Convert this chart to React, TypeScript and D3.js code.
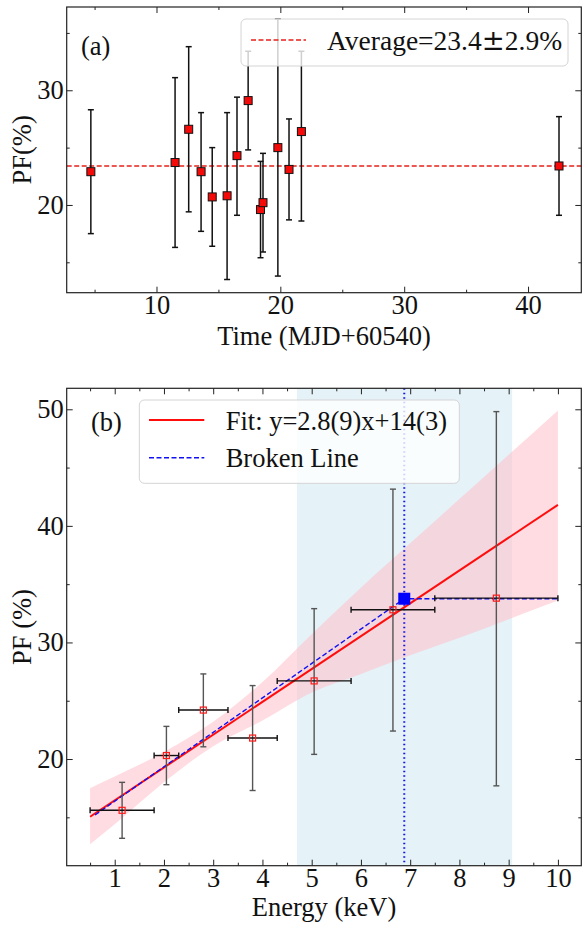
import React, { useEffect, useRef } from 'react'
import * as d3 from 'd3'

// panel (a): pulse fraction vs time
const timeX = [4.7, 11.5, 12.6, 13.6, 14.5, 15.7, 16.5, 17.4, 18.4, 18.6, 19.8, 20.7, 21.7, 42.5]
const timePF = [22.9, 23.7, 26.6, 22.9, 20.7, 20.8, 24.3, 29.1, 19.6, 20.2, 25.0, 23.1, 26.4, 23.4]
const timePFHi = [28.3, 31.1, 33.8, 28.05, 25.0, 28.05, 29.4, 33.4, 23.8, 24.5, 36.2, 27.5, 33.4, 27.7]
const timePFLo = [17.5, 16.3, 19.4, 17.7, 16.4, 13.5, 19.1, 24.8, 15.4, 15.9, 13.8, 18.7, 18.6, 19.1]
const averagePF = 23.4
const averageLabel = ['Average=23.4', '\u00b1', '2.9%']

// panel (b): pulse fraction vs energy
const eX = [1.15, 2.05, 2.8, 3.8, 5.05, 6.65, 8.75]
const eXLo = [0.5, 1.8, 2.3, 3.3, 4.3, 5.8, 7.5]
const eXHi = [1.8, 2.3, 3.3, 4.3, 5.8, 7.5, 10.0]
const ePF = [15.6, 20.3, 24.2, 21.8, 26.7, 32.8, 33.8]
const ePFLo = [13.2, 17.8, 21.05, 17.3, 20.4, 22.4, 17.7]
const ePFHi = [18.0, 22.8, 27.3, 26.3, 32.9, 43.15, 49.8]

const fitX = [0.5, 10]
const fitY = [15.05, 41.8]
const bandX = [0.5, 1, 2, 3, 4, 5, 6, 7, 8, 9, 10]
const bandLo = [12.7, 14.4, 18.0, 21.1, 23.3, 25.7, 27.3, 28.9, 30.4, 32.0, 33.6]
const bandHi = [17.5, 18.5, 20.6, 23.2, 26.6, 30.7, 34.7, 38.5, 42.3, 46.1, 49.9]
const brokenX = [0.6, 6.88, 10]
const brokenY = [15.2, 33.75, 33.75]
const breakE = 6.88
const breakPF = 33.75
const spanE = [4.7, 9.07]
const fitLabel = 'Fit: y=2.8(9)x+14(3)'
const brokenLabel = 'Broken Line'

const FONT = '"Liberation Serif", "Times New Roman", serif'
const FS = 26.5

function frameAxes(g, x, y, box, xMajor, xMinor, yMajor, yMinor) {
    const { left, right, top, bottom } = box
    const fmt = d3.format('d')
    const styleAxis = sel => {
        sel.select('.domain').remove()
        sel.selectAll('line').attr('stroke', '#222').attr('stroke-width', 1)
        sel.selectAll('text').attr('font-family', FONT).attr('font-size', FS).attr('fill', '#111')
    }
    const add = (axis, tx, ty) => g.append('g').attr('transform', `translate(${tx},${ty})`).call(axis).call(styleAxis)

    add(d3.axisBottom(x).tickValues(xMajor).tickFormat(fmt).tickSizeInner(-6).tickSizeOuter(0).tickPadding(2), 0, bottom)
    add(d3.axisBottom(x).tickValues(xMinor).tickFormat(() => '').tickSizeInner(-3).tickSizeOuter(0), 0, bottom)
    add(d3.axisTop(x).tickValues(xMajor).tickFormat(() => '').tickSizeInner(-6).tickSizeOuter(0), 0, top)
    add(d3.axisTop(x).tickValues(xMinor).tickFormat(() => '').tickSizeInner(-3).tickSizeOuter(0), 0, top)
    add(d3.axisLeft(y).tickValues(yMajor).tickFormat(fmt).tickSizeInner(-6).tickSizeOuter(0).tickPadding(3), left, 0)
    add(d3.axisLeft(y).tickValues(yMinor).tickFormat(() => '').tickSizeInner(-3).tickSizeOuter(0), left, 0)
    add(d3.axisRight(y).tickValues(yMajor).tickFormat(() => '').tickSizeInner(-6).tickSizeOuter(0), right, 0)
    add(d3.axisRight(y).tickValues(yMinor).tickFormat(() => '').tickSizeInner(-3).tickSizeOuter(0), right, 0)

    g.append('rect')
        .attr('x', left).attr('y', top)
        .attr('width', right - left).attr('height', bottom - top)
        .attr('fill', 'none').attr('stroke', '#222').attr('stroke-width', 1.2)
}

function label(g, text, x, y, opts = {}) {
    const t = g.append('text')
        .attr('x', x).attr('y', y)
        .attr('font-family', FONT).attr('font-size', opts.size || FS).attr('fill', '#111')
        .attr('text-anchor', opts.anchor || 'start')
        .text(text)
    if (opts.rotate) t.attr('transform', `rotate(-90,${x},${y})`)
    return t
}

export default function App() {
    const ref = useRef(null)

    useEffect(() => {
        const svg = d3.select(ref.current)
        svg.selectAll('*').remove()

        // ---------- panel (a) ----------
        const boxA = { left: 66.7, right: 581.3, top: 7, bottom: 292.7 }
        const xa = d3.scaleLinear().domain([2.75, 44.3]).range([boxA.left, boxA.right])
        const ya = d3.scaleLinear().domain([12.35, 37.26]).range([boxA.bottom, boxA.top])
        const ga = svg.append('g')

        ga.append('line')
            .attr('x1', boxA.left).attr('x2', boxA.right)
            .attr('y1', ya(averagePF)).attr('y2', ya(averagePF))
            .attr('stroke', '#e8201a').attr('stroke-width', 1.4).attr('stroke-dasharray', '5,2.5')

        timeX.forEach((t, i) => {
            const cx = xa(t)
            ga.append('line').attr('x1', cx).attr('x2', cx)
                .attr('y1', ya(timePFLo[i])).attr('y2', ya(timePFHi[i]))
                .attr('stroke', '#111').attr('stroke-width', 1.5)
            ;[timePFLo[i], timePFHi[i]].forEach(v => {
                ga.append('line').attr('x1', cx - 3).attr('x2', cx + 3)
                    .attr('y1', ya(v)).attr('y2', ya(v))
                    .attr('stroke', '#111').attr('stroke-width', 1.5)
            })
        })
        ga.selectAll('rect.pt').data(timeX).enter().append('rect')
            .attr('class', 'pt')
            .attr('x', (d) => xa(d) - 4).attr('y', (d, i) => ya(timePF[i]) - 4)
            .attr('width', 8).attr('height', 8)
            .attr('fill', '#f50a0a').attr('stroke', '#111').attr('stroke-width', 1)

        // legend (a)
        ga.append('rect').attr('x', 241).attr('y', 19).attr('width', 327).attr('height', 47).attr('rx', 5)
            .attr('fill', 'white').attr('fill-opacity', 0.8).attr('stroke', '#d4d4d4')
        ga.append('line').attr('x1', 251).attr('x2', 306).attr('y1', 40).attr('y2', 40)
            .attr('stroke', '#e8201a').attr('stroke-width', 1.4).attr('stroke-dasharray', '5,2.5')
        const avg = label(ga, '', 327, 50, { size: 27.5 })
        avg.append('tspan').text(averageLabel[0])
        avg.append('tspan').attr('font-family', '"DejaVu Serif", serif').text(averageLabel[1])
        avg.append('tspan').text(averageLabel[2])
        label(ga, '(a)', 81, 55)

        frameAxes(ga, xa, ya, boxA, [10, 20, 30, 40], [5, 15, 25, 35], [20, 30], [15, 25, 35])
        label(ga, 'Time (MJD+60540)', (boxA.left + boxA.right) / 2, 345, { anchor: 'middle' })
        label(ga, 'PF(%)', 31, (boxA.top + boxA.bottom) / 2, { anchor: 'middle', rotate: true })

        // ---------- panel (b) ----------
        const boxB = { left: 66.7, right: 581.3, top: 388.3, bottom: 865.7 }
        const xb = d3.scaleLinear().domain([0.025, 10.475]).range([boxB.left, boxB.right])
        const yb = d3.scaleLinear().domain([10.85, 51.8]).range([boxB.bottom, boxB.top])
        const gb = svg.append('g')

        gb.append('rect')
            .attr('x', xb(spanE[0])).attr('y', boxB.top)
            .attr('width', xb(spanE[1]) - xb(spanE[0])).attr('height', boxB.bottom - boxB.top)
            .attr('fill', 'lightblue').attr('fill-opacity', 0.32)

        const area = d3.area()
            .x((d) => xb(d))
            .y0((d, i) => yb(bandLo[i]))
            .y1((d, i) => yb(bandHi[i]))
            .curve(d3.curveMonotoneX)
        gb.append('path').attr('d', area(bandX)).attr('fill', 'pink').attr('fill-opacity', 0.55)

        const line = d3.line().x((d) => xb(d[0])).y((d) => yb(d[1]))
        gb.append('path').attr('d', line(fitX.map((v, i) => [v, fitY[i]])))
            .attr('fill', 'none').attr('stroke', '#ff0d0d').attr('stroke-width', 2)
        gb.append('path').attr('d', line(brokenX.map((v, i) => [v, brokenY[i]])))
            .attr('fill', 'none').attr('stroke', '#1010f0').attr('stroke-width', 1.4).attr('stroke-dasharray', '5,2.5')
        gb.append('line').attr('x1', xb(breakE)).attr('x2', xb(breakE))
            .attr('y1', boxB.top).attr('y2', boxB.bottom)
            .attr('stroke', '#1010f0').attr('stroke-width', 2).attr('stroke-dasharray', '1.5,3')

        eX.forEach((e, i) => {
            const cx = xb(e), cy = yb(ePF[i])
            gb.append('line').attr('x1', cx).attr('x2', cx)
                .attr('y1', yb(ePFLo[i])).attr('y2', yb(ePFHi[i]))
                .attr('stroke', '#555').attr('stroke-width', 1.4)
            ;[ePFLo[i], ePFHi[i]].forEach(v => {
                gb.append('line').attr('x1', cx - 3).attr('x2', cx + 3)
                    .attr('y1', yb(v)).attr('y2', yb(v))
                    .attr('stroke', '#555').attr('stroke-width', 1.4)
            })
            gb.append('line').attr('x1', xb(eXLo[i])).attr('x2', xb(eXHi[i]))
                .attr('y1', cy).attr('y2', cy)
                .attr('stroke', '#111').attr('stroke-width', 1.4)
            ;[eXLo[i], eXHi[i]].forEach(v => {
                gb.append('line').attr('x1', xb(v)).attr('x2', xb(v))
                    .attr('y1', cy - 3).attr('y2', cy + 3)
                    .attr('stroke', '#111').attr('stroke-width', 1.4)
            })
        })
        gb.selectAll('rect.pt').data(eX).enter().append('rect')
            .attr('class', 'pt')
            .attr('x', (d) => xb(d) - 3).attr('y', (d, i) => yb(ePF[i]) - 3)
            .attr('width', 6).attr('height', 6)
            .attr('fill', 'none').attr('stroke', '#ff1a1a').attr('stroke-width', 1.2)
        gb.append('rect')
            .attr('x', xb(breakE) - 6).attr('y', yb(breakPF) - 6)
            .attr('width', 12).attr('height', 12)
            .attr('fill', '#0000ff')

        // legend (b)
        gb.append('rect').attr('x', 139.3).attr('y', 400).attr('width', 320).attr('height', 83.3).attr('rx', 5)
            .attr('fill', 'white').attr('fill-opacity', 0.8).attr('stroke', '#d4d4d4')
        gb.append('line').attr('x1', 149).attr('x2', 204.3).attr('y1', 420).attr('y2', 420)
            .attr('stroke', '#ff0d0d').attr('stroke-width', 2)
        gb.append('line').attr('x1', 149).attr('x2', 204.3).attr('y1', 457.7).attr('y2', 457.7)
            .attr('stroke', '#1010f0').attr('stroke-width', 1.4).attr('stroke-dasharray', '5,2.5')
        label(gb, fitLabel, 225.7, 430)
        label(gb, brokenLabel, 225.7, 467)
        label(gb, '(b)', 91, 431)

        frameAxes(gb, xb, yb, boxB, d3.range(1, 11), d3.range(0.5, 10.5, 1), [20, 30, 40, 50], [15, 25, 35, 45])
        label(gb, 'Energy (keV)', (boxB.left + boxB.right) / 2, 916, { anchor: 'middle' })
        label(gb, 'PF (%)', 31, (boxB.top + boxB.bottom) / 2, { anchor: 'middle', rotate: true })
    }, [])

    return (
        <svg ref={ref} width={582} height={925}
            style={{ position: 'absolute', left: 0, top: 0, background: 'white' }} />
    )
}
